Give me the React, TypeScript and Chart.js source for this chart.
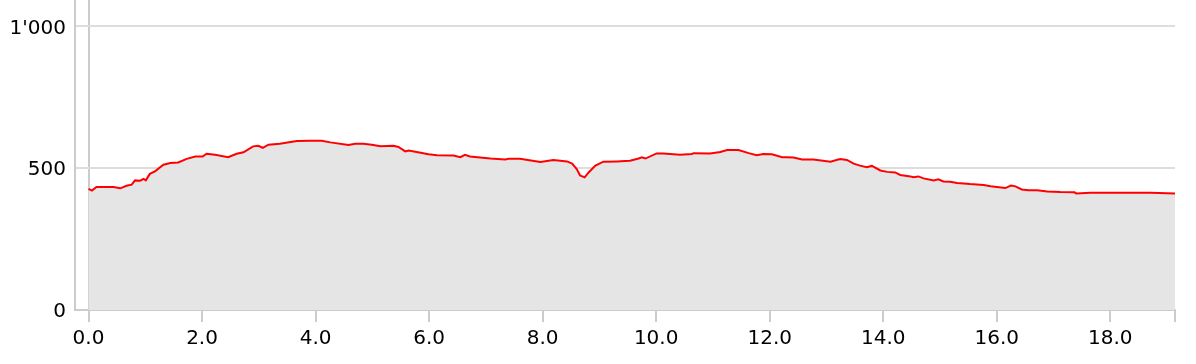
import React, { useEffect, useRef } from "react";
import { Chart, registerables } from "chart.js";

Chart.register(...registerables);

const distanceKm = [
  0.0, 0.06, 0.14, 0.44, 0.56, 0.67, 0.76, 0.82, 0.91, 0.97, 1.01, 1.08, 1.17, 1.32, 1.44, 1.58,
  1.73, 1.88, 2.01, 2.08, 2.23, 2.46, 2.61, 2.73, 2.9, 2.99, 3.07, 3.17, 3.37, 3.67, 3.9, 4.11,
  4.26, 4.58, 4.7, 4.84, 4.99, 5.14, 5.37, 5.46, 5.58, 5.64, 5.78, 5.99, 6.14, 6.43, 6.55, 6.63,
  6.72, 7.08, 7.34, 7.4, 7.6, 7.96, 8.19, 8.43, 8.52, 8.6, 8.66, 8.74, 8.81, 8.93, 9.07, 9.31,
  9.45, 9.54, 9.69, 9.75, 9.81, 10.01, 10.13, 10.42, 10.63, 10.66, 10.95, 11.13, 11.25, 11.45,
  11.63, 11.77, 11.89, 12.04, 12.22, 12.3, 12.42, 12.57, 12.77, 13.07, 13.24, 13.36, 13.48,
  13.59, 13.71, 13.8, 13.95, 14.07, 14.21, 14.3, 14.48, 14.53, 14.62, 14.71, 14.89, 14.97,
  15.06, 15.18, 15.3, 15.53, 15.77, 15.89, 16.15, 16.25, 16.33, 16.44, 16.56, 16.71, 16.89,
  17.12, 17.37, 17.4, 17.65, 18.23, 18.71, 19.14,
];

const elevationM = [
  427, 421, 434, 434, 429, 438, 442, 457, 456, 462, 457, 480, 489, 512, 518, 520,
  533, 541, 541, 551, 547, 539, 551, 556, 577, 579, 572, 583, 586, 596, 597, 597,
  591, 582, 586, 586, 583, 577, 579, 575, 559, 562, 557, 549, 546, 545, 539, 547,
  541, 534, 531, 533, 533, 522, 529, 524, 516, 497, 474, 468, 485, 509, 523, 524,
  525, 526, 534, 538, 534, 552, 552, 547, 550, 553, 552, 557, 564, 564,
  553, 546, 550, 549, 539, 539, 538, 531, 531, 523, 532, 529, 516,
  509, 503, 508, 492, 487, 485, 476, 471, 468, 471, 464, 457, 461,
  453, 452, 448, 444, 441, 436, 430, 439, 436, 425, 422, 422, 418,
  416, 415, 411, 413, 413, 413, 411,
];

const xTickValues = [0, 2, 4, 6, 8, 10, 12, 14, 16, 18];
const yTickValues = [0, 500, 1000];

const X_MIN = -0.238;
const X_MAX = 19.14;
const Y_MAX = 1093;

const fmtThousands = (v: number) => String(Math.round(v)).replace(/\B(?=(\d{3})+(?!\d))/g, "'");

export default function App() {
  const ref = useRef<HTMLCanvasElement | null>(null);

  useEffect(() => {
    if (!ref.current) return;
    const points = distanceKm.map((d, i) => ({ x: d, y: elevationM[i] }));
    const font = { family: "DejaVu Sans", size: 20 };
    const chart = new Chart(ref.current, {
      type: "line",
      data: {
        datasets: [
          {
            data: points,
            borderColor: "#ff0000",
            borderWidth: 2,
            backgroundColor: "#e5e5e5",
            fill: "origin",
            pointRadius: 0,
            tension: 0,
          },
        ],
      },
      options: {
        animation: false,
        responsive: false,
        events: [],
        layout: { padding: { left: 0, right: 21, top: 0, bottom: 0 } },
        plugins: { legend: { display: false }, tooltip: { enabled: false } },
        scales: {
          x: {
            type: "linear",
            min: X_MIN,
            max: X_MAX,
            afterBuildTicks: (scale: any) => {
              scale.ticks = [...xTickValues, X_MAX].map((v) => ({ value: v }));
            },
            afterFit: (scale: any) => {
              scale.height = 54;
              scale.paddingLeft = 0;
              scale.paddingRight = 0;
            },
            ticks: {
              color: "#000",
              font,
              padding: 5,
              maxRotation: 0,
              autoSkip: false,
              callback: (v: any) => (xTickValues.includes(Number(v)) ? Number(v).toFixed(1) : ""),
            },
            grid: {
              color: (ctx: any) => (ctx.tick && ctx.tick.value === 0 ? "#cccccc" : "rgba(0,0,0,0)"),
              tickColor: "#cccccc",
              tickLength: 12,
              lineWidth: 2,
            },
            border: { color: "#cccccc", width: 2 },
          },
          y: {
            type: "linear",
            min: 0,
            max: Y_MAX,
            afterBuildTicks: (scale: any) => {
              scale.ticks = yTickValues.map((v) => ({ value: v }));
            },
            afterFit: (scale: any) => {
              scale.width = 75;
              scale.paddingTop = 0;
              scale.paddingBottom = 0;
            },
            ticks: {
              color: "#000",
              font,
              padding: 9,
              labelOffset: 2,
              callback: (v: any) => fmtThousands(Number(v)),
            },
            grid: {
              color: "#dddddd",
              lineWidth: 2,
              drawTicks: false,
            },
            border: { color: "#cccccc", width: 2 },
          },
        },
      },
    });
    return () => chart.destroy();
  }, []);

  return (
    <div style={{ position: "absolute", left: 0, top: 0, width: 1196, height: 364 }}>
      <canvas ref={ref} width={1196} height={364} style={{ width: 1196, height: 364, display: "block" }} />
    </div>
  );
}
